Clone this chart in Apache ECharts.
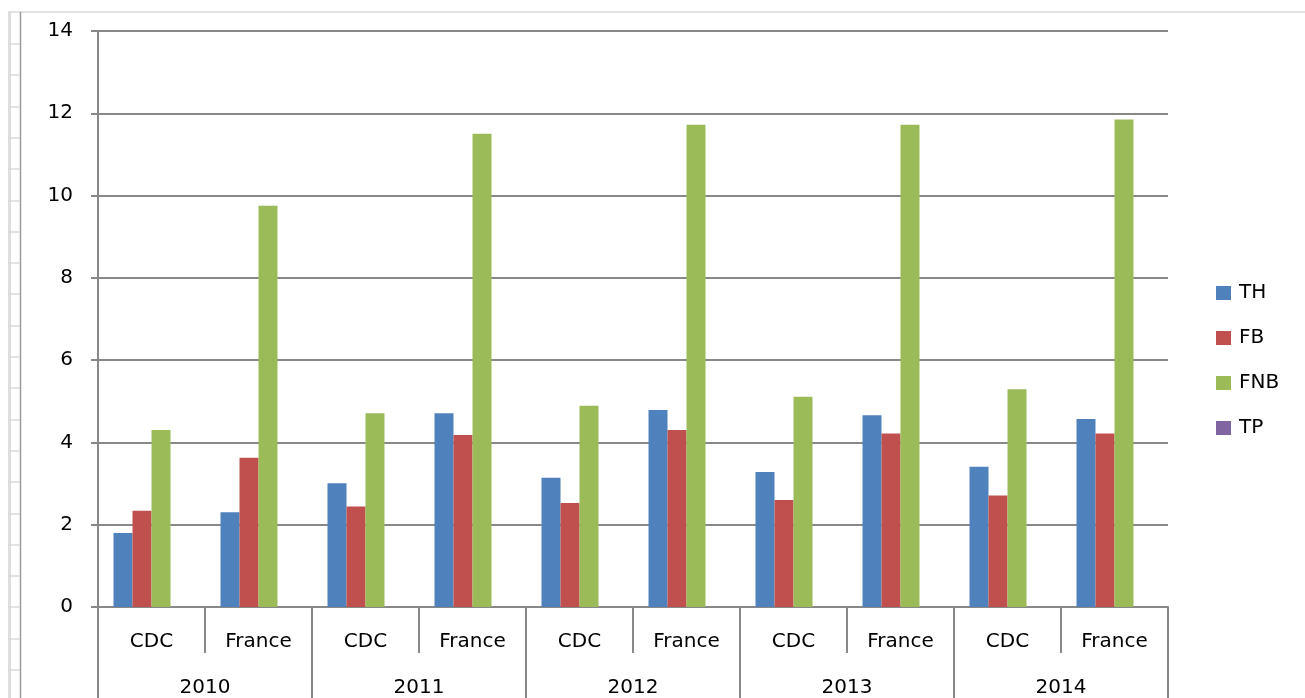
<!DOCTYPE html>
<html>
<head>
<meta charset="utf-8">
<script src="https://cdn.jsdelivr.net/npm/echarts@6/dist/echarts.min.js"></script>
<style>
  html, body { margin: 0; padding: 0; background: #fff; }
  #chart { width: 1305px; height: 698px; }
</style>
</head>
<body>
<div id="chart"></div>
<script>
  // categories
  let places = ['CDC', 'France', 'CDC', 'France', 'CDC', 'France', 'CDC', 'France', 'CDC', 'France'];
  let years = ['2010', '2011', '2012', '2013', '2014'];
  let yTicks = [0, 2, 4, 6, 8, 10, 12, 14];

  // series values
  let th = [1.80, 2.30, 3.01, 4.71, 3.14, 4.79, 3.28, 4.66, 3.41, 4.57];
  let fb = [2.34, 3.63, 2.44, 4.18, 2.53, 4.30, 2.60, 4.22, 2.71, 4.22];
  let fnb = [4.30, 9.75, 4.71, 11.50, 4.89, 11.72, 5.11, 11.72, 5.29, 11.85];
  let tp = ['-', '-', '-', '-', '-', '-', '-', '-', '-', '-'];

  let dom = document.getElementById('chart');
  let myChart = echarts.init(dom);

  let font = 'DejaVu Sans';
  let gray = '#888888';

  // left ruler decoration (screenshot frame)
  let deco = [
    {type: 'line', shape: {x1: 8, y1: 12, x2: 1305, y2: 12}, style: {stroke: '#d9d9d9', lineWidth: 1.5}},
    {type: 'rect', shape: {x: 8, y: 12, width: 3, height: 686}, style: {fill: '#dedede'}},
    {type: 'line', shape: {x1: 20.5, y1: 12, x2: 20.5, y2: 698}, style: {stroke: '#9a9a9a', lineWidth: 1.5}}
  ];
  for (let y = 44; y < 698; y += 31.3) {
    deco.push({type: 'line', shape: {x1: 8, y1: Math.round(y), x2: 20, y2: Math.round(y)}, style: {stroke: '#d9d9d9', lineWidth: 1.5}});
  }

  let bar = function (name, data, color) {
    return {
      type: 'bar',
      name: name,
      data: data,
      barWidth: 19,
      barGap: '0%',
      itemStyle: {color: color},
      emphasis: {disabled: true}
    };
  };

  let option = {
    animation: false,
    backgroundColor: '#ffffff',
    textStyle: {fontFamily: font},
    grid: {left: 98, right: 137, top: 31, bottom: 88, containLabel: false},
    legend: {
      orient: 'vertical',
      left: 1211,
      top: 278,
      padding: 5,
      icon: 'rect',
      itemWidth: 15,
      itemHeight: 14,
      itemGap: 25,
      textStyle: {fontSize: 20, color: '#000', fontFamily: font, padding: [0, 0, 0, 3]},
      data: ['TH', 'FB', 'FNB', 'TP']
    },
    xAxis: [
      {
        type: 'category',
        data: places,
        position: 'bottom',
        axisLine: {lineStyle: {color: gray, width: 2}},
        axisTick: {show: true, interval: 0, length: 46, lineStyle: {color: gray, width: 2}},
        axisLabel: {interval: 0, margin: 25, fontSize: 20, color: '#000', fontFamily: font},
        splitLine: {show: false}
      },
      {
        type: 'category',
        data: years,
        position: 'bottom',
        axisLine: {show: false},
        axisTick: {show: true, interval: 0, length: 92, lineStyle: {color: gray, width: 2}},
        axisLabel: {interval: 0, margin: 71, fontSize: 20, color: '#000', fontFamily: font},
        splitLine: {show: false}
      }
    ],
    yAxis: {
      type: 'value',
      min: yTicks[0],
      max: yTicks[yTicks.length - 1],
      interval: 2,
      axisLine: {show: true, lineStyle: {color: gray, width: 2}},
      axisTick: {show: true, length: 7, lineStyle: {color: gray, width: 2}},
      axisLabel: {margin: 25, fontSize: 20, color: '#000', fontFamily: font, padding: [0, 0, 4, 0]},
      splitLine: {lineStyle: {color: gray, width: 2}}
    },
    series: [
      bar('TH', th, '#4F81BD'),
      bar('FB', fb, '#C0504D'),
      bar('FNB', fnb, '#9BBB59'),
      bar('TP', tp, '#8064A2')
    ],
    graphic: deco
  };

  if (option && typeof option === 'object') {
    myChart.setOption(option, true);
  }
</script>
</body>
</html>
